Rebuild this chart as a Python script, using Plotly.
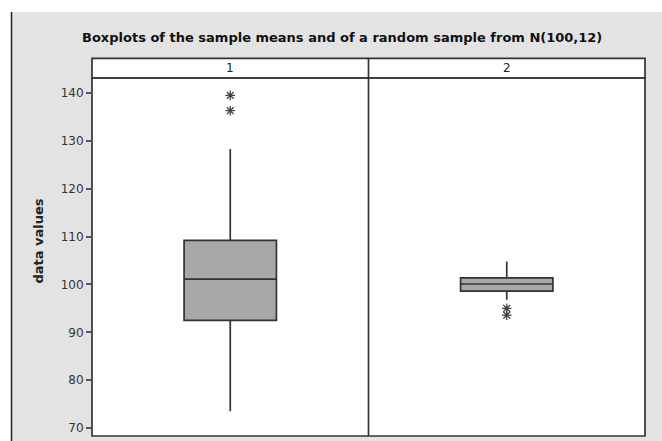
import plotly.graph_objects as go

# ---- data ----
panels = ["1", "2"]
q1_vals = [92.5, 98.6]
median_vals = [101.1, 100.1]
q3_vals = [109.2, 101.4]
lower_whisker = [73.5, 96.8]
upper_whisker = [128.3, 104.8]
outliers_1 = [139.5, 136.3]
outliers_2 = [95.0, 93.6]
y_ticks = [70, 80, 90, 100, 110, 120, 130, 140]
title_text = "Boxplots of the sample means and of a random sample from N(100,12)"
y_label = "data values"

W, H = 662, 441
ML, MR, MT, MB = 92, 17, 78, 5
PW, PH = W - ML - MR, H - MT - MB


def px_x(p):
    return (p - ML) / PW


def px_y(p):
    return (H - MB - p) / PH


DARK = "#333333"
FILL = "#a8a8a8"

fig = go.Figure()
xaxes = ["x", "x2"]
outs = [outliers_1, outliers_2]
for i, name in enumerate(panels):
    fig.add_trace(go.Box(
        x=[0], q1=[q1_vals[i]], median=[median_vals[i]], q3=[q3_vals[i]],
        lowerfence=[lower_whisker[i]], upperfence=[upper_whisker[i]],
        width=0.334, whiskerwidth=0, fillcolor=FILL,
        line=dict(color=DARK, width=1.7), boxpoints=False,
        xaxis=xaxes[i], yaxis="y", showlegend=False, hoverinfo="skip",
    ))
    fig.add_trace(go.Scatter(
        x=[0] * len(outs[i]), y=outs[i], mode="markers",
        marker=dict(symbol="asterisk-open", size=8, color="#444444",
                    line=dict(color="#444444", width=1.3)),
        xaxis=xaxes[i], yaxis="y", showlegend=False, hoverinfo="skip",
    ))

shapes = [
    # white margins top and left of the gray background
    dict(type="rect", xref="paper", yref="paper", layer="below",
         x0=px_x(-5), x1=px_x(670), y0=px_y(12), y1=px_y(-5),
         fillcolor="white", line=dict(width=0)),
    dict(type="rect", xref="paper", yref="paper", layer="below",
         x0=px_x(-5), x1=px_x(11.5), y0=px_y(450), y1=px_y(-5),
         fillcolor="white", line=dict(width=0)),
    dict(type="line", xref="paper", yref="paper", layer="below",
         x0=px_x(11.5), x1=px_x(11.5), y0=px_y(12), y1=px_y(450),
         line=dict(color="#222222", width=1.5)),
    # strip
    dict(type="rect", xref="paper", yref="paper",
         x0=0, x1=1, y0=1, y1=px_y(58.3), fillcolor="white",
         line=dict(color=DARK, width=1.7), layer="below"),
    # plot frame
    dict(type="rect", xref="paper", yref="paper",
         x0=0, x1=1, y0=0, y1=1, line=dict(color=DARK, width=1.7)),
    # panel divider
    dict(type="line", xref="paper", yref="paper",
         x0=0.5, x1=0.5, y0=0, y1=px_y(58.3),
         line=dict(color=DARK, width=1.7)),
]

annotations = [
    dict(text="<b>" + title_text + "</b>", xref="paper", yref="paper",
         x=px_x(341.5), y=px_y(37), showarrow=False,
         font=dict(family="DejaVu Sans", size=13, color="#111111"),
         xanchor="center", yanchor="middle"),
    dict(text="<b>" + y_label + "</b>", xref="paper", yref="paper",
         x=px_x(38), y=px_y(241.5), showarrow=False, textangle=-90,
         font=dict(family="DejaVu Sans", size=13, color="#222222"),
         xanchor="center", yanchor="middle"),
]
for i, name in enumerate(panels):
    annotations.append(dict(
        text=name, xref="paper", yref="paper", x=0.25 + 0.5 * i, y=px_y(68.3),
        showarrow=False, font=dict(family="DejaVu Sans", size=12, color="#222222"),
        xanchor="center", yanchor="middle"))

fig.update_layout(
    width=W, height=H,
    margin=dict(l=ML, r=MR, t=MT, b=MB),
    paper_bgcolor="#e3e3e3", plot_bgcolor="white",
    shapes=shapes, annotations=annotations,
    xaxis=dict(domain=[0, 0.5], range=[-0.5, 0.5], showticklabels=False,
               showgrid=False, zeroline=False, ticks=""),
    xaxis2=dict(domain=[0.5, 1], range=[-0.5, 0.5], showticklabels=False,
                showgrid=False, zeroline=False, ticks="", anchor="y"),
    yaxis=dict(range=[68.35, 143.13], tickvals=y_ticks, ticks="outside",
               ticklen=5, tickwidth=1.5, tickcolor="#555555",
               showgrid=False, zeroline=False, showline=False,
               tickfont=dict(family="DejaVu Sans", size=12, color="#333333")),
)

fig.write_html("out.html")
